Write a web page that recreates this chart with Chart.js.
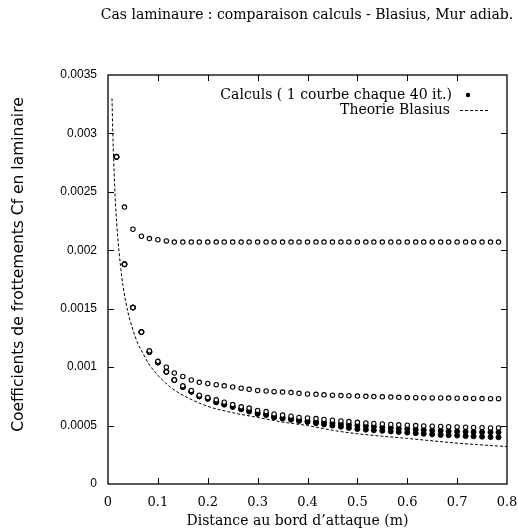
<!DOCTYPE html>
<html><head><meta charset="utf-8">
<script src="https://cdn.jsdelivr.net/npm/chart.js@4/dist/chart.umd.min.js"></script>
<style>html,body{margin:0;padding:0;background:#fff}</style>
</head><body>
<canvas id="c" width="518" height="530"></canvas>
<script>
// ---- data ----
const titleText = "Cas laminaure : comparaison calculs - Blasius, Mur adiab.";
const xAxisTitle = "Distance au bord d\u2019attaque (m)";
const yAxisTitle = "Coefficients de frottements Cf en laminaire";
const calcLabel = "Calculs ( 1 courbe chaque 40 it.)";
const blasiusLabel = "Theorie Blasius";
const xTickLabels = ["0","0.1","0.2","0.3","0.4","0.5","0.6","0.7","0.8"];
const yTickLabels = ["0","0.0005","0.001","0.0015","0.002","0.0025","0.003","0.0035"];

const xStations = [0.017,0.033,0.05,0.067,0.083,0.1,0.117,0.133,0.15,0.167,0.183,0.2,0.217,0.233,0.25,0.267,0.283,0.3,0.317,0.333,0.35,0.367,0.383,0.4,0.417,0.433,0.45,0.467,0.483,0.5,0.517,0.533,0.55,0.567,0.583,0.6,0.617,0.633,0.65,0.667,0.683,0.7,0.717,0.733,0.75,0.767,0.783];

const cfCurve1 = [0.0028,0.00237,0.00218,0.00212,0.0021,0.00209,0.00208,0.00207,0.00207,0.00207,0.00207,0.00207,0.00207,0.00207,0.00207,0.00207,0.00207,0.00207,0.00207,0.00207,0.00207,0.00207,0.00207,0.00207,0.00207,0.00207,0.00207,0.00207,0.00207,0.00207,0.00207,0.00207,0.00207,0.00207,0.00207,0.00207,0.00207,0.00207,0.00207,0.00207,0.00207,0.00207,0.00207,0.00207,0.00207,0.00207,0.00207];
const cfCurve2 = [0.0028,0.00188,0.00151,0.0013,0.00114,0.00105,0.001,0.00095,0.00092,0.00089,0.00087,0.00086,0.00085,0.00084,0.00083,0.00082,0.00081,0.0008,0.000796,0.00079,0.000787,0.000782,0.000776,0.00077,0.000767,0.000763,0.00076,0.000757,0.000755,0.000752,0.00075,0.000748,0.000746,0.000744,0.000742,0.00074,0.000739,0.000738,0.000737,0.000736,0.000735,0.000734,0.000733,0.000732,0.000731,0.00073,0.00073];
const cfCurve3 = [0.0028,0.00188,0.00151,0.0013,0.00113,0.00104,0.00096,0.00089,0.00084,0.0008,0.00076,0.00074,0.00072,0.0007,0.00068,0.00066,0.00065,0.00063,0.00062,0.0006,0.00059,0.00058,0.00057,0.000565,0.00056,0.000553,0.000546,0.00054,0.000534,0.000528,0.000523,0.000518,0.000514,0.00051,0.000506,0.000503,0.0005,0.000497,0.000494,0.000492,0.00049,0.000488,0.000486,0.000484,0.000482,0.00048,0.00048];
const cfCurve4 = [0.0028,0.00188,0.00151,0.0013,0.00113,0.00104,0.00096,0.00089,0.00083,0.00079,0.00075,0.00073,0.0007,0.00068,0.00066,0.00064,0.00063,0.00061,0.0006,0.00058,0.00057,0.00056,0.00055,0.00054,0.000533,0.000526,0.00052,0.000514,0.000508,0.000502,0.000496,0.00049,0.000485,0.00048,0.000475,0.00047,0.000466,0.000462,0.000458,0.000455,0.000452,0.000449,0.000447,0.000445,0.000444,0.000443,0.000442];
const cfCurve5 = [0.0028,0.00188,0.00151,0.0013,0.00113,0.00104,0.00096,0.00089,0.00083,0.00079,0.00075,0.00073,0.0007,0.00068,0.00066,0.00064,0.00062,0.0006,0.00059,0.00057,0.00056,0.00055,0.00054,0.00053,0.00052,0.00051,0.0005,0.00049,0.00048,0.00047,0.000465,0.00046,0.000455,0.00045,0.000445,0.00044,0.000435,0.00043,0.000425,0.00042,0.000418,0.000415,0.00041,0.000408,0.000405,0.000402,0.0004];

const blasiusX = [0.008,0.01,0.012,0.015,0.02,0.025,0.03,0.04,0.05,0.06,0.07,0.08,0.1,0.125,0.15,0.2,0.25,0.3,0.35,0.4,0.45,0.5,0.6,0.7,0.8];
const blasiusCf = [0.0033,0.00295,0.0027,0.0024,0.00209,0.00187,0.0017,0.00147,0.00132,0.0012,0.00112,0.00104,0.00093,0.00083,0.00076,0.000665,0.00061,0.00057,0.00053,0.0005,0.00046,0.00043,0.00039,0.00035,0.00032];

// ---- build ----
const SERIF = '"DejaVu Serif", "Liberation Serif", serif';
const SANS = '"DejaVu Sans", "Liberation Sans", sans-serif';
const pts = (xs, ys) => xs.map((x, i) => ({x: x, y: ys[i]}));
const openStyle = {pointRadius: 2.2, pointBorderWidth: 1.1, pointBorderColor: '#000', pointBackgroundColor: '#fff', showLine: false};
const filledStyle = {pointRadius: 2.5, pointBorderWidth: 1, pointBorderColor: '#000', pointBackgroundColor: '#000', showLine: false};

const frameTicks = {
  id: 'frameTicks',
  afterDatasetsDraw(chart) {
    const {ctx, chartArea: a, scales: {x, y}} = chart;
    ctx.save();
    ctx.strokeStyle = '#000';
    ctx.lineWidth = 1.3;
    ctx.strokeRect(a.left, a.top, a.right - a.left, a.bottom - a.top);
    ctx.lineWidth = 1;
    const L = 6;
    ctx.beginPath();
    x.ticks.forEach(t => {
      const px = Math.round(x.getPixelForValue(t.value)) + 0.5;
      if (px <= a.left + 1 || px >= a.right - 1) return;
      ctx.moveTo(px, a.bottom); ctx.lineTo(px, a.bottom - L);
      ctx.moveTo(px, a.top); ctx.lineTo(px, a.top + L);
    });
    y.ticks.forEach(t => {
      const py = Math.round(y.getPixelForValue(t.value)) + 0.5;
      if (py <= a.top + 1 || py >= a.bottom - 1) return;
      ctx.moveTo(a.left, py); ctx.lineTo(a.left + L, py);
      ctx.moveTo(a.right, py); ctx.lineTo(a.right - L, py);
    });
    ctx.stroke();
    ctx.fillStyle = '#000';
    ctx.textBaseline = 'middle';
    // chart title
    ctx.textAlign = 'center';
    ctx.font = '14px ' + SERIF;
    ctx.fillText(titleText, 307, 15);
    // legend, inside the frame: text right-aligned, key on the right
    ctx.textAlign = 'right';
    const ty1 = a.top + 20, ty2 = a.top + 35;
    ctx.fillText(calcLabel, a.right - 55, ty1);
    ctx.beginPath(); ctx.arc(a.right - 39, ty1, 2.2, 0, Math.PI * 2); ctx.fill();
    ctx.fillText(blasiusLabel, a.right - 57, ty2);
    ctx.setLineDash([3, 2]);
    ctx.beginPath(); ctx.moveTo(a.right - 47, ty2 + 0.5); ctx.lineTo(a.right - 19, ty2 + 0.5); ctx.stroke();
    ctx.setLineDash([]);
    // axis titles
    ctx.textAlign = 'center';
    ctx.fillText(xAxisTitle, a.left + 189.5, a.bottom + 37.5);
    ctx.translate(19, a.top + 189.5);
    ctx.rotate(-Math.PI / 2);
    ctx.font = '15.5px ' + SANS;
    ctx.fillText(yAxisTitle, 0, 0);
    ctx.restore();
  }
};

new Chart(document.getElementById('c'), {
  type: 'scatter',
  data: {
    datasets: [
      {label: blasiusLabel, data: pts(blasiusX, blasiusCf), showLine: true, borderColor: '#000', borderWidth: 1, borderDash: [3, 2], pointRadius: 0, cubicInterpolationMode: 'monotone', fill: false},
      Object.assign({label: calcLabel, data: pts(xStations, cfCurve1)}, openStyle),
      Object.assign({label: calcLabel, data: pts(xStations, cfCurve2)}, openStyle),
      Object.assign({label: calcLabel, data: pts(xStations, cfCurve3)}, openStyle),
      Object.assign({label: calcLabel, data: pts(xStations, cfCurve4)}, filledStyle),
      Object.assign({label: calcLabel, data: pts(xStations, cfCurve5)}, filledStyle)
    ]
  },
  options: {
    responsive: false,
    animation: false,
    devicePixelRatio: 1,
    layout: {padding: {left: 0, right: 11, top: 75, bottom: 0}},
    plugins: {
      legend: {display: false},
      tooltip: {enabled: false},
      title: {display: false}
    },
    scales: {
      x: {
        type: 'linear', min: 0, max: 0.8,
        grid: {display: false, drawTicks: false},
        border: {display: false},
        afterFit: s => { s.height = 46; s.paddingLeft = 0; s.paddingRight = 0; },
        afterBuildTicks: s => { s.ticks = xTickLabels.map(v => ({value: parseFloat(v)})); },
        ticks: {
          color: '#000', padding: 11, maxRotation: 0,
          font: {family: SERIF, size: 13},
          callback: (v, i) => xTickLabels[i]
        },
        title: {display: false, text: xAxisTitle}
      },
      y: {
        type: 'linear', min: 0, max: 0.0035,
        grid: {display: false, drawTicks: false},
        border: {display: false},
        afterFit: s => { s.width = 108; s.paddingTop = 0; s.paddingBottom = 0; },
        afterBuildTicks: s => { s.ticks = yTickLabels.map(v => ({value: parseFloat(v)})); },
        ticks: {
          color: '#000', padding: 11,
          font: {family: '"Liberation Sans", sans-serif', size: 12},
          callback: (v, i) => yTickLabels[i]
        },
        title: {display: false, text: yAxisTitle}
      }
    }
  },
  plugins: [frameTicks]
});
</script>
</body></html>
